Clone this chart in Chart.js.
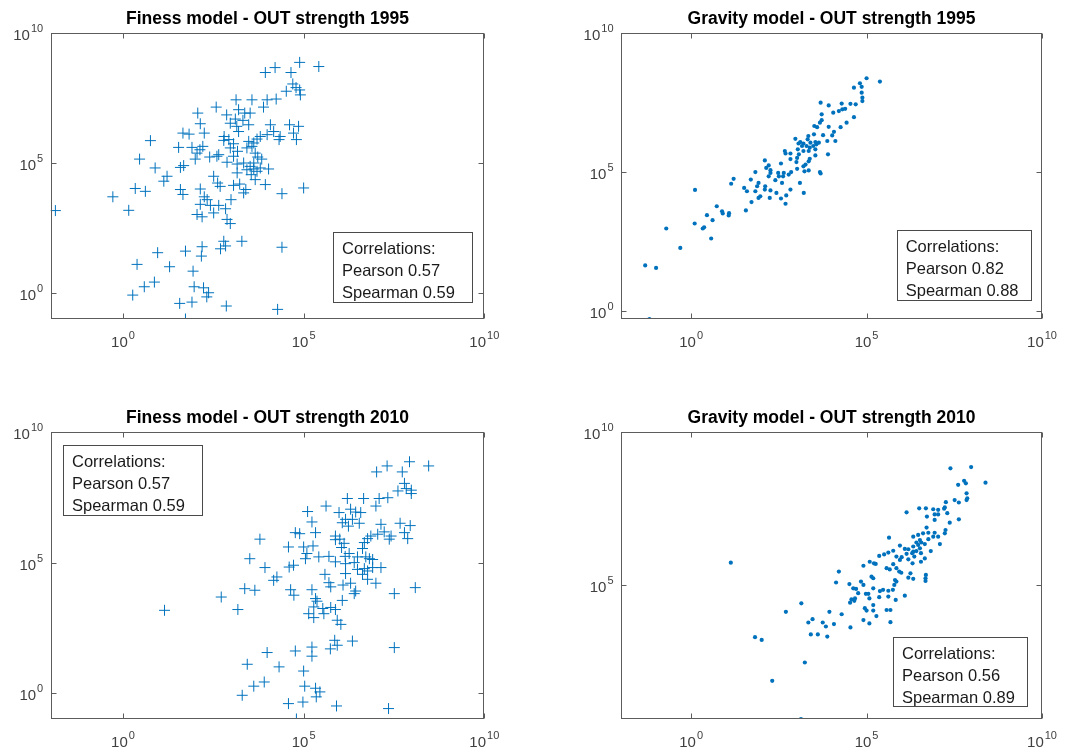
<!DOCTYPE html>
<html>
<head>
<meta charset="utf-8">
<script src="https://cdn.jsdelivr.net/npm/chart.js@4.4.1/dist/chart.umd.min.js"></script>
<style>
  html, body { margin: 0; padding: 0; background: #fff; }
  #wrap { position: relative; width: 1078px; height: 751px; }
  #wrap canvas { position: absolute; left: 0; top: 0; }
</style>
</head>
<body>
<div id="wrap">
  <canvas id="c1" width="1078" height="751"></canvas>
  <canvas id="c2" width="1078" height="751"></canvas>
  <canvas id="c3" width="1078" height="751"></canvas>
  <canvas id="c4" width="1078" height="751"></canvas>
</div>
<script>
// DATA - every point is [log10 x, log10 y]

const fitness1995 = [
  [5.42,8.71],[4.89,8.87],[4.21,8.67],[3.94,8.48],[4.65,8.48],[4.70,8.04],[4.52,7.76],[4.89,7.81],[4.91,7.62],[4.79,7.90],
  [3.13,7.43],[3.57,7.43],[3.99,7.43],[4.24,7.46],[3.89,7.15],[2.58,7.15],[2.07,6.92],[2.87,6.85],[3.20,7.05],[3.37,6.92],
  [3.52,6.92],[3.11,6.69],[3.32,6.64],[3.48,6.47],[2.14,6.51],[2.97,6.53],[3.15,6.41],[1.66,6.15],[1.83,6.11],[2.25,6.15],
  [4.08,6.47],[4.61,6.47],[4.86,6.41],[4.17,6.21],[3.99,6.09],[3.80,6.02],[4.35,6.02],[4.72,6.15],[4.80,5.90],[4.32,5.90],
  [3.71,5.92],[3.62,5.77],[2.80,6.02],[2.93,5.90],[3.06,5.74],[2.97,5.58],[2.79,5.87],[0.76,5.86],[1.54,5.60],[1.91,5.60],
  [2.21,5.64],[2.05,5.38],[2.13,5.51],[2.60,5.26],[2.65,5.32],[3.17,5.45],[3.43,5.58],[3.57,5.64],[3.66,5.38],[3.73,5.23],
  [3.84,5.15],[3.06,5.26],[0.46,5.15],[0.89,4.81],[2.00,5.15],[1.59,4.83],[1.68,4.90],[2.40,5.23],[2.88,5.03],[3.16,4.96],
  [3.34,5.00],[3.43,4.74],[3.62,4.77],[3.71,4.68],[3.80,4.81],[4.03,4.77],[3.16,4.62],[3.55,4.55],[3.66,4.36],[3.94,4.17],
  [1.22,4.49],[1.13,4.30],[2.51,4.49],[2.62,4.23],[2.69,4.10],[3.06,4.14],[3.23,4.19],[3.40,3.98],[3.34,3.85],[0.34,4.02],
  [0.62,3.91],[1.59,3.98],[1.66,3.79],[2.14,4.00],[2.25,3.70],[2.33,3.59],[2.99,3.59],[4.40,3.82],[5.00,4.04],[-0.28,3.70],
  [0.16,3.18],[-1.87,3.17],[2.14,3.41],[2.42,3.37],[2.65,3.37],[2.84,3.24],[2.05,3.02],[2.19,2.93],[2.51,3.08],[2.88,2.83],
  [2.97,2.67],[2.79,1.99],[3.29,1.99],[2.70,1.70],[2.84,1.81],[4.40,1.76],[2.19,1.78],[2.17,1.42],[1.73,1.61],[0.96,1.55],
  [0.39,1.10],[1.29,1.01],[1.94,0.84],[0.87,0.42],[0.59,0.24],[0.27,-0.08],[1.97,0.24],[2.23,0.20],[2.37,0.01],[2.32,-0.15],
  [1.57,-0.40],[1.91,-0.35],[2.86,-0.50],[4.28,-0.63],[1.73,-1.00],[3.52,4.87],[3.62,5.00],[3.20,6.21],[3.48,5.83]
];

const gravity1995 = [
  [5.00,8.37],[5.38,8.25],[4.81,8.19],[4.64,8.03],[4.86,8.06],[4.86,7.85],[4.88,7.67],[4.88,7.55],[4.54,7.45],[4.69,7.43],
  [4.29,7.46],[3.69,7.49],[3.92,7.39],[4.39,7.27],[4.31,7.25],[4.21,7.19],[4.05,7.13],[3.72,7.07],[4.64,6.97],[3.72,6.86],
  [3.67,6.77],[4.43,6.77],[4.26,6.61],[3.51,6.65],[3.92,6.62],[3.59,6.61],[4.07,6.44],[3.76,6.32],[3.50,6.35],[4.02,6.31],
  [2.97,6.19],[3.34,6.29],[3.32,6.17],[4.11,6.11],[3.88,6.11],[3.11,6.07],[3.06,6.02],[3.20,6.02],[3.40,6.05],[3.54,6.07],
  [3.64,6.05],[3.16,5.93],[3.29,5.93],[3.38,5.87],[3.48,5.93],[3.57,5.99],[3.04,5.81],[3.20,5.75],[3.35,5.75],[3.54,5.81],
  [2.67,5.75],[2.83,5.66],[2.69,5.66],[3.07,5.63],[3.90,5.63],[3.54,5.59],[3.02,5.50],[2.83,5.46],[3.38,5.47],[3.35,5.38],
  [3.26,5.26],[2.56,5.30],[3.20,5.20],[3.00,5.35],[2.10,5.41],[2.21,5.23],[2.14,5.14],[2.26,5.06],[3.02,5.11],[2.85,4.99],
  [3.23,5.02],[3.35,5.05],[3.67,4.99],[3.69,4.94],[1.83,4.99],[2.26,4.96],[2.48,4.96],[2.64,4.96],[2.78,4.90],[2.21,4.84],
  [2.50,4.84],[2.40,4.70],[2.62,4.84],[1.21,4.75],[1.14,4.57],[1.70,4.72],[1.92,4.60],[1.51,4.42],[1.88,4.48],[2.59,4.60],
  [3.10,4.60],[2.11,4.48],[1.59,4.30],[1.83,4.30],[2.10,4.36],[2.26,4.33],[2.43,4.24],[2.83,4.36],[3.21,4.24],[1.97,4.12],
  [1.92,4.06],[2.24,4.06],[2.71,4.15],[2.56,4.04],[0.11,4.35],[1.72,3.91],[2.69,3.85],[1.56,3.61],[0.73,3.76],[0.88,3.58],
  [0.90,3.50],[1.07,3.43],[1.08,3.51],[0.45,3.44],[0.61,3.26],[0.10,3.14],[0.37,3.00],[0.33,2.96],[0.57,2.60],[-0.71,2.96],
  [-0.31,2.26],[-1.31,1.63],[-1.00,1.54],[-1.19,-0.30]
];

const fitness2010 = [
  [8.46,8.71],[7.93,8.87],[7.31,8.71],[7.02,8.48],[7.73,8.48],[7.79,8.04],[7.61,7.75],[7.98,7.78],[7.98,7.65],[7.84,7.84],
  [6.21,7.46],[6.66,7.46],[7.09,7.46],[7.33,7.49],[7.00,7.17],[5.62,7.17],[5.11,6.96],[5.98,6.92],[6.30,7.05],[6.44,6.94],
  [6.58,6.92],[6.16,6.66],[6.35,6.66],[6.54,6.51],[5.23,6.56],[6.07,6.53],[6.24,6.40],[4.77,6.15],[4.89,6.11],[5.33,6.15],
  [7.14,6.47],[7.67,6.51],[7.95,6.42],[7.23,6.18],[7.05,6.09],[6.86,6.02],[7.42,6.02],[7.79,6.15],[7.88,5.92],[7.37,5.90],
  [6.77,5.92],[6.68,5.77],[5.88,6.02],[6.00,5.90],[6.12,5.74],[6.05,5.58],[5.88,5.88],[3.79,5.90],[4.58,5.60],[5.00,5.60],
  [5.26,5.64],[5.09,5.35],[5.70,5.24],[6.26,5.35],[6.49,5.22],[6.63,5.54],[6.72,5.22],[6.82,5.15],[6.91,5.12],[6.15,5.24],
  [3.51,5.15],[3.93,4.81],[5.05,5.15],[4.60,4.83],[4.72,4.90],[5.42,5.22],[5.88,5.03],[6.16,4.96],[6.40,5.00],[6.49,4.74],
  [6.68,4.77],[6.77,4.68],[6.91,4.81],[7.14,4.81],[6.16,4.58],[6.63,4.55],[6.77,4.36],[7.00,4.21],[4.26,4.45],[4.17,4.32],
  [5.59,4.55],[5.70,4.23],[5.75,4.07],[6.09,4.14],[6.30,4.21],[6.44,3.91],[6.40,3.81],[3.37,4.00],[3.65,3.94],[4.64,3.96],
  [4.73,3.75],[5.23,3.96],[5.33,3.62],[5.37,3.52],[6.07,3.55],[7.51,3.81],[8.09,4.04],[2.72,3.68],[3.18,3.20],[1.15,3.17],
  [5.28,3.30],[5.53,3.24],[5.75,3.28],[5.88,3.20],[5.14,3.04],[5.28,2.89],[5.56,3.04],[5.93,2.79],[6.03,2.63],[5.86,2.02],
  [6.35,1.99],[5.74,1.69],[5.93,1.83],[7.51,1.74],[5.23,1.76],[5.23,1.41],[4.77,1.61],[3.99,1.55],[3.44,1.10],[4.32,1.00],
  [5.00,0.84],[3.91,0.42],[3.62,0.26],[3.30,-0.09],[5.03,0.26],[5.33,0.18],[5.45,0.04],[5.35,-0.15],[4.58,-0.41],[4.98,-0.35],
  [5.91,-0.50],[7.35,-0.60],[4.80,-1.00]
];

const gravity2010 = [
  [7.98,8.86],[7.39,8.82],[8.39,8.35],[7.78,8.41],[7.83,8.33],[7.61,8.28],[7.85,8.00],[7.87,7.84],[7.85,7.78],[7.51,7.78],
  [7.63,7.70],[7.26,7.71],[7.23,7.54],[7.21,7.50],[7.30,7.35],[7.04,7.46],[7.37,7.04],[7.63,7.15],[6.50,7.51],[6.69,7.51],
  [6.14,7.38],[6.90,7.48],[6.72,7.24],[6.94,7.31],[7.04,7.31],[6.94,7.13],[6.71,6.88],[7.25,6.80],[7.23,6.69],[6.94,6.71],
  [6.61,6.69],[6.76,6.71],[6.90,6.58],[7.04,6.58],[6.47,6.64],[6.33,6.58],[6.76,6.50],[5.64,6.55],[6.52,6.47],[6.42,6.39],
  [6.56,6.39],[6.66,6.34],[7.09,6.34],[6.47,6.31],[6.33,6.26],[5.95,6.29],[6.09,6.18],[6.19,6.17],[6.52,6.20],[6.42,6.11],
  [6.33,6.09],[6.83,6.11],[6.55,6.04],[6.14,6.02],[6.30,6.04],[5.76,6.12],[5.62,6.06],[5.50,6.00],[5.36,5.95],[5.85,5.93],
  [6.00,5.91],[6.36,5.93],[6.66,5.87],[6.19,5.84],[5.95,5.82],[5.09,5.76],[5.21,5.71],[5.26,5.69],[4.91,5.63],[5.76,5.68],
  [6.31,5.71],[6.55,5.76],[5.57,5.55],[5.66,5.51],[5.85,5.55],[5.93,5.44],[5.99,5.40],[6.25,5.38],[6.19,5.24],[6.33,5.20],
  [6.69,5.33],[6.68,5.22],[6.68,5.13],[4.21,5.44],[5.14,5.27],[5.19,5.22],[5.81,5.16],[5.85,5.11],[5.79,5.00],[4.13,5.08],
  [4.51,5.03],[4.84,5.11],[4.91,5.00],[5.19,4.89],[5.47,4.84],[5.62,4.81],[5.75,4.84],[5.38,4.80],[4.62,4.89],[4.70,4.87],
  [4.76,4.73],[4.98,4.71],[5.05,4.71],[4.67,4.56],[4.57,4.53],[4.53,4.42],[4.65,4.48],[5.08,4.56],[5.36,4.60],[5.62,4.62],
  [6.09,4.65],[5.83,4.51],[4.95,4.24],[5.00,4.16],[5.19,4.34],[5.19,4.16],[5.57,4.18],[5.68,4.18],[5.28,3.98],[4.91,3.85],
  [5.08,3.74],[5.68,3.78],[3.14,4.40],[2.70,4.12],[3.94,4.12],[4.29,4.04],[3.46,3.88],[3.34,3.77],[3.75,3.77],[4.07,3.72],
  [3.84,3.64],[4.54,3.61],[3.41,3.38],[3.61,3.38],[3.88,3.31],[1.82,3.29],[2.01,3.20],[3.24,2.46],[2.31,1.86],[3.13,0.61],
  [1.13,5.73]
];

// titles, correlation texts, tick exponents
const titles = [
  'Finess model - OUT strength 1995',
  'Gravity model - OUT strength 1995',
  'Finess model - OUT strength 2010',
  'Gravity model - OUT strength 2010'
];
const pearson = ['0.57', '0.82', '0.57', '0.56'];
const spearman = ['0.59', '0.88', '0.59', '0.89'];
const xTickExp = [0, 5, 10];
const yTickExp = [[0, 5, 10], [0, 5, 10], [0, 5, 10], [5, 10]];
const yMinExp = [-1, -0.3, -1, 0.61];

// axes boxes [left, top, right, bottom] in page pixels
const boxes = [
  [50.7, 33, 484.3, 319],
  [621, 33, 1042, 319],
  [50.7, 432.3, 484.3, 719],
  [621, 432.3, 1042, 719]
];
// correlation text boxes [x, y, w, h]
const notes = [
  [333, 232, 139, 70],
  [896.7, 229.7, 134.3, 69.6],
  [63, 445, 138.7, 70.3],
  [893, 636.7, 134, 69.3]
];

const BLUE = '#0072BD';
const FONT = '"Liberation Sans", Arial, Helvetica, sans-serif';

function expLabel(ctx, e, x, baseY, align) {
  ctx.font = '15px ' + FONT;
  const bw = ctx.measureText('10').width;
  ctx.font = '11px ' + FONT;
  const ew = ctx.measureText(String(e)).width;
  const w = bw + ew + 1;
  const x0 = align === 'right' ? x - w : x - w / 2;
  ctx.font = '15px ' + FONT;
  ctx.fillText('10', x0, baseY);
  ctx.font = '11px ' + FONT;
  ctx.fillText(String(e), x0 + bw + 1, baseY - 8);
}

const framePlugin = {
  id: 'frame',
  afterDraw(chart, args, o) {
    const ctx = chart.ctx, a = chart.chartArea;
    const xs = chart.scales.x, ys = chart.scales.y;
    const L = Math.round(a.left) + 0.5, R = Math.round(a.right) - 0.5;
    const T = Math.round(a.top) + 0.5, B = Math.round(a.bottom) - 0.5;
    ctx.save();
    ctx.strokeStyle = '#5c5c5c';
    ctx.lineWidth = 1;
    ctx.strokeRect(L, T, R - L, B - T);

    // inward ticks on all four sides
    ctx.beginPath();
    xTickExp.forEach(e => {
      const px = Math.round(xs.getPixelForValue(Math.pow(10, e))) + 0.5;
      ctx.moveTo(px, B); ctx.lineTo(px, B - 5);
      ctx.moveTo(px, T); ctx.lineTo(px, T + 5);
    });
    o.yTicks.forEach(e => {
      const py = Math.round(ys.getPixelForValue(Math.pow(10, e))) + 0.5;
      ctx.moveTo(L, py); ctx.lineTo(L + 5, py);
      ctx.moveTo(R, py); ctx.lineTo(R - 5, py);
    });
    ctx.stroke();

    // tick labels
    ctx.fillStyle = '#404040';
    ctx.textBaseline = 'alphabetic';
    ctx.textAlign = 'left';
    xTickExp.forEach(e => {
      expLabel(ctx, e, xs.getPixelForValue(Math.pow(10, e)), a.bottom + 28, 'center');
    });
    o.yTicks.forEach(e => {
      expLabel(ctx, e, a.left - 7.5, ys.getPixelForValue(Math.pow(10, e)) + 7, 'right');
    });

    // title
    ctx.fillStyle = '#000';
    ctx.font = 'bold 17.5px ' + FONT;
    ctx.textAlign = 'center';
    ctx.textBaseline = 'middle';
    ctx.fillText(o.title, (a.left + a.right) / 2, a.top - 14);

    // correlation box
    const n = o.note;
    ctx.strokeStyle = '#4a4a4a';
    ctx.strokeRect(Math.round(n[0]) + 0.5, Math.round(n[1]) + 0.5, Math.round(n[2]), Math.round(n[3]));
    ctx.fillStyle = '#1a1a1a';
    ctx.font = '16.5px ' + FONT;
    ctx.textAlign = 'left';
    o.lines.forEach((t, i) => ctx.fillText(t, n[0] + 9, n[1] + 17.5 + i * 22));
    ctx.restore();
  }
};

function makeChart(id, k, pts, cross) {
  const b = boxes[k];
  const ds = {
    data: pts.map(p => ({ x: Math.pow(10, p[0]), y: Math.pow(10, p[1]) })),
    pointStyle: cross ? 'cross' : 'circle',
    pointRadius: cross ? 5.5 : 2.1,
    pointBorderWidth: cross ? 1 : 0,
    pointBorderColor: BLUE,
    pointBackgroundColor: BLUE,
    showLine: false
  };
  return new Chart(document.getElementById(id), {
    type: 'scatter',
    data: { datasets: [ds] },
    options: {
      responsive: false,
      animation: false,
      devicePixelRatio: 1,
      events: [],
      layout: { padding: { left: b[0], top: b[1], right: 1078 - b[2], bottom: 751 - b[3] } },
      scales: {
        x: { type: 'logarithmic', min: 1e-2, max: 1e10, display: false },
        y: { type: 'logarithmic', min: Math.pow(10, yMinExp[k]), max: 1e10, display: false }
      },
      plugins: {
        legend: { display: false },
        title: { display: false },
        tooltip: { enabled: false },
        frame: {
          title: titles[k],
          yTicks: yTickExp[k],
          note: notes[k],
          lines: ['Correlations:', 'Pearson ' + pearson[k], 'Spearman ' + spearman[k]]
        }
      }
    },
    plugins: [framePlugin]
  });
}

makeChart('c1', 0, fitness1995, true);
makeChart('c2', 1, gravity1995, false);
makeChart('c3', 2, fitness2010, true);
makeChart('c4', 3, gravity2010, false);
</script>
</body>
</html>
